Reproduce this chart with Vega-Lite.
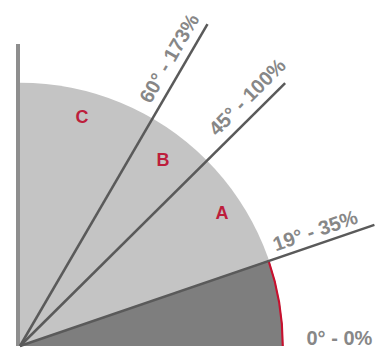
{
  "$schema": "https://vega.github.io/schema/vega-lite/v6.json",
  "width": 385,
  "height": 349,
  "autosize": {"type": "fit", "contains": "padding"},
  "padding": 0,
  "background": "white",
  "config": {"view": {"stroke": null}},
  "datasets": {
    "sectors": [
      {"part": "quarter", "cx": 0, "cy": 0, "from": 0, "to": 90, "r0": 0, "r": 100},
      {"part": "wedge", "cx": 0, "cy": 0, "from": 0, "to": 19, "r0": 0, "r": 100},
      {"part": "edge", "cx": 0, "cy": 0, "from": 0, "to": 19, "r0": 99.4, "r": 100.2}
    ],
    "rays": [
      {"deg": 19, "x0": 0, "y0": 0, "x1": 134.6, "y1": 46.4},
      {"deg": 45, "x0": 0, "y0": 0, "x1": 100.7, "y1": 100.7},
      {"deg": 60, "x0": 0, "y0": 0, "x1": 71.2, "y1": 123.3}
    ],
    "axisline": [{"x": -0.76, "y0": 0, "y1": 115.7}],
    "labels": [
      {"text": "60° - 173%", "x": 56.96, "y": 110.07, "angle": -60},
      {"text": "45° - 100%", "x": 86.5, "y": 95.1, "angle": -45},
      {"text": "19° - 35%", "x": 112.2, "y": 43.9, "angle": -19}
    ],
    "zero": [{"text": "0° - 0%", "x": 121.3, "y": 0.4}],
    "letters": [
      {"text": "C", "x": 23.5, "y": 87.5},
      {"text": "B", "x": 54.3, "y": 70.8},
      {"text": "A", "x": 76.7, "y": 50.5}
    ]
  },
  "layer": [
    {
      "data": {"name": "sectors"},
      "transform": [{"filter": "datum.part == 'quarter'"}],
      "mark": {"type": "arc", "fill": "#c4c4c4", "stroke": null},
      "encoding": {
        "x": {"field": "cx", "type": "quantitative", "scale": {"domain": [-7.596, 138.62], "nice": false, "zero": false}, "axis": null},
        "y": {"field": "cy", "type": "quantitative", "scale": {"domain": [0, 132.55], "nice": false, "zero": false}, "axis": null},
        "theta": {"field": "from", "type": "quantitative", "stack": null, "scale": {"type": "linear", "domain": [90, -270], "range": [0, 6.283185307], "zero": false, "nice": false}},
        "theta2": {"field": "to"},
        "radius": {"field": "r", "type": "quantitative", "scale": {"type": "linear", "domain": [0, 100], "range": [0, 263.3], "zero": true, "nice": false}},
        "radius2": {"field": "r0"}
      }
    },
    {
      "data": {"name": "sectors"},
      "transform": [{"filter": "datum.part == 'wedge'"}],
      "mark": {"type": "arc", "fill": "#7e7e7e", "stroke": null},
      "encoding": {
        "x": {"field": "cx", "type": "quantitative"},
        "y": {"field": "cy", "type": "quantitative"},
        "theta": {"field": "from", "type": "quantitative", "stack": null},
        "theta2": {"field": "to"},
        "radius": {"field": "r", "type": "quantitative"},
        "radius2": {"field": "r0"}
      }
    },
    {
      "data": {"name": "sectors"},
      "transform": [{"filter": "datum.part == 'edge'"}],
      "mark": {"type": "arc", "fill": "#c8102e", "stroke": null},
      "encoding": {
        "x": {"field": "cx", "type": "quantitative"},
        "y": {"field": "cy", "type": "quantitative"},
        "theta": {"field": "from", "type": "quantitative", "stack": null},
        "theta2": {"field": "to"},
        "radius": {"field": "r", "type": "quantitative"},
        "radius2": {"field": "r0"}
      }
    },
    {
      "data": {"name": "axisline"},
      "mark": {"type": "rule", "stroke": "#8e8e8e", "strokeWidth": 4},
      "encoding": {
        "x": {"field": "x", "type": "quantitative"},
        "y": {"field": "y0", "type": "quantitative"},
        "y2": {"field": "y1"}
      }
    },
    {
      "data": {"name": "rays"},
      "mark": {"type": "rule", "stroke": "#5a5a5a", "strokeWidth": 2.5},
      "encoding": {
        "x": {"field": "x0", "type": "quantitative"},
        "y": {"field": "y0", "type": "quantitative"},
        "x2": {"field": "x1"},
        "y2": {"field": "y1"}
      }
    },
    {
      "data": {"name": "labels"},
      "mark": {"type": "text", "font": "Liberation Sans", "fontSize": 20, "fontWeight": "bold", "fill": "#878787", "align": "center", "baseline": "middle"},
      "encoding": {
        "x": {"field": "x", "type": "quantitative"},
        "y": {"field": "y", "type": "quantitative"},
        "angle": {"field": "angle", "type": "quantitative", "scale": null},
        "text": {"field": "text", "type": "nominal"}
      }
    },
    {
      "data": {"name": "zero"},
      "mark": {"type": "text", "font": "Liberation Sans", "fontSize": 20, "fontWeight": "bold", "fill": "#878787", "align": "center", "baseline": "alphabetic"},
      "encoding": {
        "x": {"field": "x", "type": "quantitative"},
        "y": {"field": "y", "type": "quantitative"},
        "text": {"field": "text", "type": "nominal"}
      }
    },
    {
      "data": {"name": "letters"},
      "mark": {"type": "text", "font": "Liberation Sans", "fontSize": 18, "fontWeight": "bold", "fill": "#bd1e3c", "align": "center", "baseline": "middle"},
      "encoding": {
        "x": {"field": "x", "type": "quantitative"},
        "y": {"field": "y", "type": "quantitative"},
        "text": {"field": "text", "type": "nominal"}
      }
    }
  ]
}
